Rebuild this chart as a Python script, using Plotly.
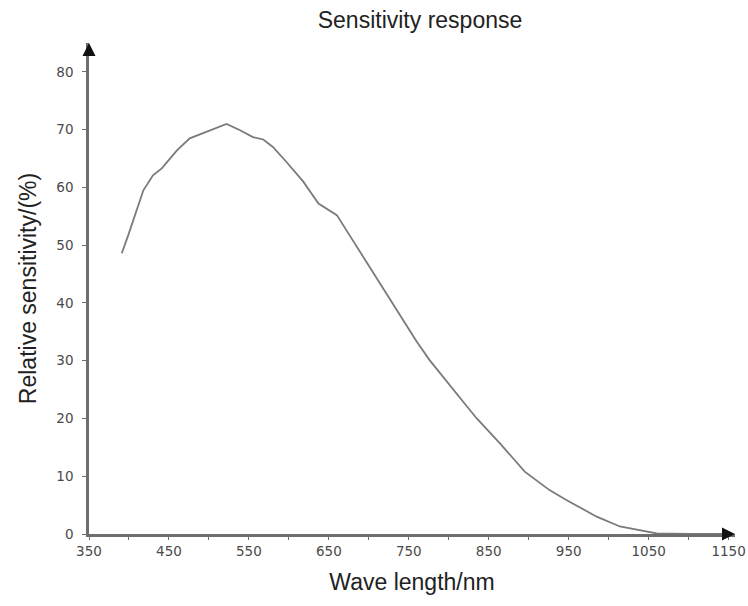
import plotly.graph_objects as go

wavelength_nm = [391, 399, 418, 430, 441, 460, 476, 501, 522, 539, 555, 568, 580, 597,
                 618, 637, 660, 676, 697, 718, 739, 760, 776, 797, 818, 835, 864, 895,
                 926, 947, 985, 1014, 1039, 1060, 1100, 1150]
relative_sensitivity = [48.6, 51.7, 59.5, 62.1, 63.3, 66.4, 68.5, 69.9, 71.0, 69.9, 68.7, 68.3,
                        67.0, 64.4, 61.0, 57.2, 55.2, 51.7, 47.1, 42.5, 37.9, 33.3, 30.1, 26.6,
                        22.9, 20.0, 15.7, 10.8, 7.6, 5.9, 3.0, 1.3, 0.6, 0.1, 0.0, 0.0]

x_ticks = [350, 450, 550, 650, 750, 850, 950, 1050, 1150]
y_ticks = [0, 10, 20, 30, 40, 50, 60, 70, 80]

axis_color = "#6e6e6e"
tick_font = dict(family="DejaVu Sans", size=13.5, color="#4a4a4a")

fig = go.Figure()
fig.add_trace(go.Scatter(
    x=wavelength_nm, y=relative_sensitivity, mode="lines",
    line=dict(color="#7a7a7a", width=1.8), showlegend=False, hoverinfo="x+y"))

fig.update_layout(
    width=748, height=606,
    paper_bgcolor="white", plot_bgcolor="white",
    margin=dict(l=89, r=13, t=43, b=72),
    title=dict(text="Sensitivity response", x=420 / 748, xanchor="center",
               y=1 - 20 / 606, yanchor="middle",
               font=dict(family="Liberation Sans", size=23, color="#222")),
    xaxis=dict(range=[350, 1158], tickvals=x_ticks, ticktext=[str(v) for v in x_ticks],
               automargin=False,
               showgrid=False, zeroline=False, showline=True, linecolor=axis_color,
               linewidth=2.5, ticks="outside", ticklen=3, tickcolor=axis_color,
               tickfont=tick_font,
               minor=dict(dtick=50, tick0=350, ticks="outside", ticklen=3, tickcolor=axis_color),
               title=dict(text="Wave length/nm", standoff=16,
                          font=dict(family="Liberation Sans", size=23, color="#222"))),
    yaxis=dict(range=[0, 85], tickvals=y_ticks, ticktext=[str(v) for v in y_ticks],
               automargin=False,
               showgrid=False, zeroline=False, showline=True, linecolor=axis_color,
               linewidth=2.5, ticks="outside", ticklen=4, tickcolor=axis_color,
               tickfont=tick_font, ticklabelstandoff=6,
               title=dict(text="Relative sensitivity/(%)", standoff=14,
                          font=dict(family="Liberation Sans", size=23, color="#222"))),
)

# axis arrowheads
fig.add_annotation(x=350, y=85, xref="x", yref="y", ax=0, ay=12, axref="pixel", ayref="pixel",
                   showarrow=True, arrowhead=2, arrowsize=1.3, arrowwidth=2,
                   arrowcolor="#111", text="")
fig.add_annotation(x=1158, y=0, xref="x", yref="y", ax=-14, ay=0, axref="pixel", ayref="pixel",
                   showarrow=True, arrowhead=2, arrowsize=1.3, arrowwidth=2,
                   arrowcolor="#111", text="")

fig.write_html("out.html", config={"displayModeBar": False},
               post_script="document.body.style.margin='0';document.body.style.overflow='hidden';")
